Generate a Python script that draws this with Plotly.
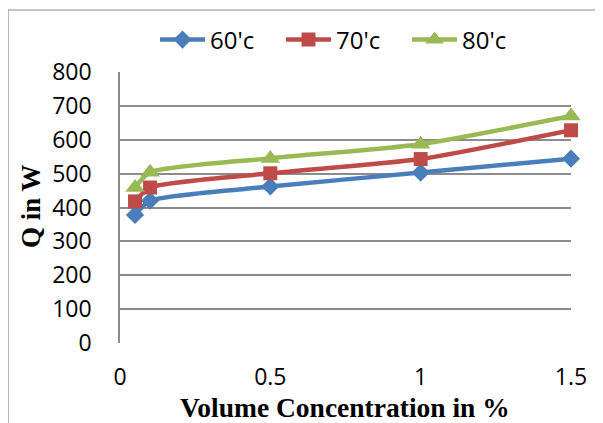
import plotly.graph_objects as go

x_vals = [0.05, 0.1, 0.5, 1.0, 1.5]
q_60 = [378, 420, 462, 503, 544]
q_70 = [418, 459, 501, 543, 628]
q_80 = [459, 504, 545, 587, 670]
series_names = ["60'c", "70'c", "80'c"]
colors = ["#4A7EBB", "#BE4B48", "#98B954"]
symbols = ["diamond", "square", "triangle-up"]
msizes = [14, 14, 17]
x_ticks = [0, 0.5, 1, 1.5]
y_ticks = [0, 100, 200, 300, 400, 500, 600, 700, 800]

fig = go.Figure()
for name, ys, c, s, ms in zip(series_names, [q_60, q_70, q_80], colors, symbols, msizes):
    fig.add_trace(go.Scatter(
        x=x_vals, y=ys, name=name, mode="lines+markers",
        line=dict(color=c, width=4.5, shape="spline", smoothing=0.6),
        marker=dict(symbol=s, size=ms, color=c),
        cliponaxis=False,
    ))

# page body has an 8px margin, so the figure is laid out in shifted coordinates
OFF = 8
W, H = 603 - OFF, 423 - OFF
L, R, T, B = 120 - OFF, 32, 72 - OFF, 80
PW, PH = W - L - R, H - T - B


def px(xw):
    return (xw - OFF - L) / PW


def py(yw):
    return (H - B - (yw - OFF)) / PH


fig.update_layout(
    width=W, height=H,
    margin=dict(l=L, r=R, t=T, b=B, autoexpand=False),
    paper_bgcolor="white", plot_bgcolor="white",
    font=dict(family="Open Sans", size=23, color="black"),
    showlegend=True,
    legend=dict(orientation="h", x=px(155), xanchor="left",
                y=py(40), yanchor="middle",
                font=dict(size=24), itemwidth=45, entrywidth=66, entrywidthmode="pixels",
                tracegroupgap=0, traceorder="normal", bgcolor="rgba(0,0,0,0)"),
    xaxis=dict(range=[0, 1.5], tickvals=x_ticks, ticktext=["0", "0.5", "1", "1.5"],
               showgrid=False, zeroline=False, showline=False, ticks="",
               automargin=False, ticklabelstandoff=18),
    yaxis=dict(range=[0, 800], tickvals=y_ticks, showgrid=True, gridcolor="#8C8C8C",
               gridwidth=1.5, zeroline=False, showline=True, linecolor="#8C8C8C",
               linewidth=1.5, ticks="", automargin=False, ticklabelstandoff=22),
)

# axis titles
fig.add_annotation(text="<b>Volume Concentration in %</b>", xref="paper", yref="paper",
                   x=px(345), y=py(407), xanchor="center", yanchor="middle",
                   showarrow=False, font=dict(family="Liberation Serif", size=27.5))
fig.add_annotation(text="<b>Q in W</b>", xref="paper", yref="paper",
                   x=px(31), y=py(206), xanchor="center", yanchor="middle",
                   textangle=-90, showarrow=False, font=dict(family="Liberation Serif", size=27))

# outer frame lines (left and top)
fx = px(8)
fy = py(10)
fig.add_shape(type="line", xref="paper", yref="paper",
              x0=fx, x1=fx, y0=fy, y1=py(440),
              line=dict(color="#8C8C8C", width=1.2))
fig.add_shape(type="line", xref="paper", yref="paper",
              x0=fx, x1=px(620), y0=fy, y1=fy,
              line=dict(color="#8C8C8C", width=1.2))

fig.write_html("out.html")
